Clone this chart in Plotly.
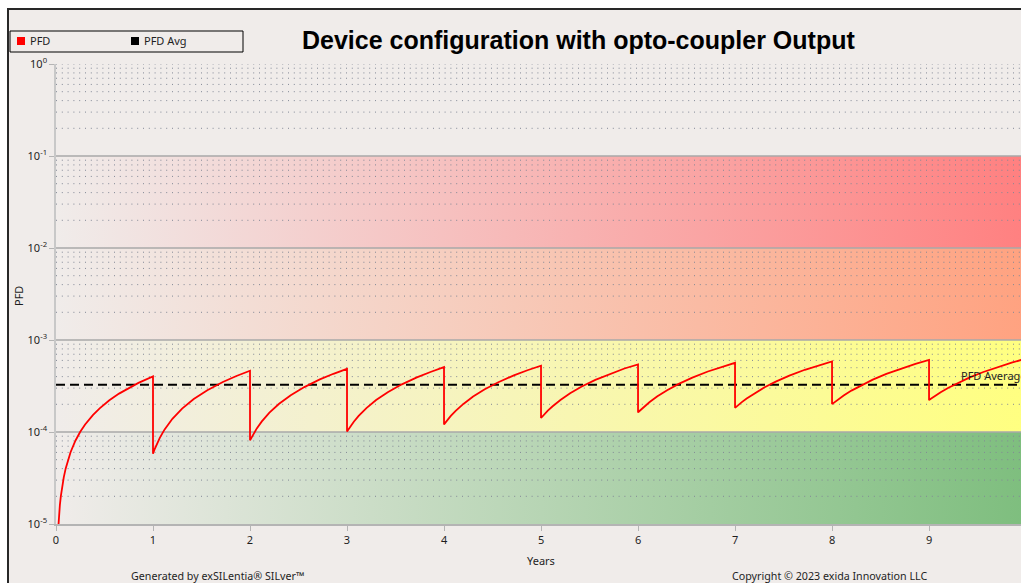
import plotly.graph_objects as go

# ---------------- data ----------------
title_text = "Device configuration with opto-coupler Output"
x_ticks = [0, 1, 2, 3, 4, 5, 6, 7, 8, 9, 10]
y_ticks = [1e-5, 1e-4, 1e-3, 1e-2, 1e-1, 1e0]
y_ticktext = ["10<sup>-5</sup>", "10<sup>-4</sup>", "10<sup>-3</sup>",
              "10<sup>-2</sup>", "10<sup>-1</sup>", "10<sup>0</sup>"]

# first proof-test interval (starts from zero)
first_offsets = [0.02, 0.025, 0.03, 0.04, 0.05, 0.065, 0.08, 0.1, 0.12, 0.15,
                 0.2, 0.25, 0.3, 0.38, 0.45, 0.55, 0.65, 0.75, 0.85, 1.0]
first_pfd = [8.04e-6, 1.005e-5, 1.206e-5, 1.608e-5, 2.01e-5, 2.613e-5, 3.216e-5,
             4.02e-5, 4.824e-5, 6.03e-5, 8.04e-5, 1.005e-4, 1.206e-4, 1.528e-4,
             1.809e-4, 2.211e-4, 2.613e-4, 3.015e-4, 3.417e-4, 4.02e-4]

# later intervals: sample offsets inside each year, and PFD values (x1e-4)
cycle_offsets = [0, 0.015, 0.03, 0.05, 0.07, 0.12, 0.2, 0.3, 0.42, 0.56, 0.72, 0.86, 1.0]
pfd_year2 = [0.581, 0.642, 0.703, 0.784, 0.865, 1.067, 1.391, 1.796, 2.282, 2.849, 3.497, 4.064, 4.63]
pfd_year3 = [0.811, 0.872, 0.933, 1.014, 1.095, 1.297, 1.621, 2.026, 2.512, 3.079, 3.727, 4.294, 4.86]
pfd_year4 = [1.01, 1.071, 1.132, 1.213, 1.294, 1.496, 1.82, 2.225, 2.711, 3.278, 3.926, 4.493, 5.07]
pfd_year5 = [1.21, 1.271, 1.332, 1.413, 1.494, 1.696, 2.02, 2.425, 2.911, 3.478, 4.126, 4.693, 5.25]
pfd_year6 = [1.42, 1.481, 1.542, 1.623, 1.704, 1.906, 2.23, 2.635, 3.121, 3.688, 4.336, 4.903, 5.43]
pfd_year7 = [1.63, 1.691, 1.752, 1.833, 1.914, 2.116, 2.44, 2.845, 3.331, 3.898, 4.546, 5.113, 5.65]
pfd_year8 = [1.83, 1.891, 1.952, 2.033, 2.114, 2.316, 2.64, 3.045, 3.531, 4.098, 4.746, 5.313, 5.86]
pfd_year9 = [2.01, 2.071, 2.132, 2.213, 2.294, 2.496, 2.82, 3.225, 3.711, 4.278, 4.926, 5.493, 6.08]
pfd_year10 = [2.22, 2.281, 2.342, 2.423, 2.504, 2.706, 3.03, 3.435, 3.921, 4.488, 5.136, 5.703, 6.27]
cycle_scale = 1e-4

pfd_avg = 3.26e-4

# SIL bands
band_low = [1e-5, 1e-4, 1e-3, 1e-2]
band_high = [1e-4, 1e-3, 1e-2, 1e-1]
band_color = ["rgb(126,190,126)", "rgb(255,255,128)", "rgb(255,162,128)", "rgb(255,128,128)"]

# ---------------- styling ----------------
BG = "rgb(240,236,234)"
FONT = "Noto Sans"
FIG_W, FIG_H = 1021, 583
L, T, PW, PH = 56, 64, 965, 460   # plot area, px


def px_x(px):
    return (px - L) / PW


def px_y(py):
    return (T + PH - py) / PH


# build the PFD curve
curve_x = list(first_offsets)
curve_y = list(first_pfd)
later = [pfd_year2, pfd_year3, pfd_year4, pfd_year5, pfd_year6,
         pfd_year7, pfd_year8, pfd_year9, pfd_year10]
for k, vals in enumerate(later, start=1):
    curve_x += [k + o for o in cycle_offsets]
    curve_y += [v * cycle_scale for v in vals]

fig = go.Figure()

# gradient bands
for lo, hi, c in zip(band_low, band_high, band_color):
    fig.add_trace(go.Scatter(
        x=[0, 10, 10, 0, 0], y=[lo, lo, hi, hi, lo],
        mode="lines", fill="toself", line=dict(width=0),
        fillgradient=dict(type="horizontal", colorscale=[[0, BG], [1, c]]),
        hoverinfo="skip", showlegend=False))

# dotted minor grid
gx, gy = [], []
for dec in [1e-5, 1e-4, 1e-3, 1e-2, 1e-1]:
    for d in range(2, 10):
        gx += [0, 10, None]
        gy += [d * dec, d * dec, None]
gx += [0, 10, None]
gy += [1.0, 1.0, None]
fig.add_trace(go.Scatter(x=gx, y=gy, mode="lines",
                         line=dict(color="rgb(130,136,150)", width=1, dash="1px,4.8px"),
                         hoverinfo="skip", showlegend=False))

# solid decade lines (band edges)
mx, my = [], []
for v in band_high:
    mx += [0, 10, None]
    my += [v, v, None]
fig.add_trace(go.Scatter(x=mx, y=my, mode="lines",
                         line=dict(color="rgb(168,168,168)", width=1.5),
                         hoverinfo="skip", showlegend=False))

# average line
fig.add_trace(go.Scatter(x=[0, 10], y=[pfd_avg, pfd_avg], mode="lines",
                         line=dict(color="black", width=2, dash="9px,5px"),
                         name="PFD Avg", hoverinfo="skip", showlegend=False))

# PFD curve
fig.add_trace(go.Scatter(x=curve_x, y=curve_y, mode="lines",
                         line=dict(color="rgb(255,0,0)", width=1.8),
                         name="PFD", showlegend=False))

shapes = [
    # frame / background
    dict(type="rect", xref="paper", yref="paper", layer="below",
         x0=px_x(8), x1=px_x(1040), y0=px_y(600), y1=px_y(9),
         fillcolor=BG, line=dict(color="rgb(40,40,40)", width=2)),
    # legend box
    dict(type="rect", xref="paper", yref="paper",
         x0=px_x(10), x1=px_x(243), y0=px_y(52), y1=px_y(31),
         fillcolor="rgba(0,0,0,0)", line=dict(color="black", width=1)),
    dict(type="rect", xref="paper", yref="paper",
         x0=px_x(17), x1=px_x(25), y0=px_y(45), y1=px_y(37),
         fillcolor="rgb(255,0,0)", line=dict(width=0)),
    dict(type="rect", xref="paper", yref="paper",
         x0=px_x(131), x1=px_x(139), y0=px_y(45), y1=px_y(37),
         fillcolor="black", line=dict(width=0)),
]

txt = dict(family=FONT, size=11, color="rgb(30,30,30)")
foot = dict(family=FONT, size=10.7, color="rgb(30,30,30)")
annotations = [
    dict(text=title_text, xref="paper", yref="paper", x=px_x(578.5), y=px_y(40),
         xanchor="center", yanchor="middle", showarrow=False,
         font=dict(family="Liberation Sans", size=25, color="black", weight="bold")),
    dict(text="PFD", xref="paper", yref="paper", x=px_x(28), y=px_y(41),
         xanchor="left", yanchor="middle", showarrow=False, font=txt),
    dict(text="PFD Avg", xref="paper", yref="paper", x=px_x(142), y=px_y(41),
         xanchor="left", yanchor="middle", showarrow=False, font=txt),
    dict(text="PFD", xref="paper", yref="paper", x=px_x(18), y=px_y(296),
         xanchor="center", yanchor="middle", textangle=-90, showarrow=False, font=txt),
    dict(text="Years", xref="paper", yref="paper", x=px_x(541), y=px_y(560),
         xanchor="center", yanchor="middle", showarrow=False, font=txt),
    dict(text="Generated by exSILentia® SILver™", xref="paper", yref="paper",
         x=px_x(217), y=px_y(576), xanchor="center", yanchor="middle",
         showarrow=False, font=foot),
    dict(text="Copyright © 2023 exida Innovation LLC", xref="paper", yref="paper",
         x=px_x(829), y=px_y(576), xanchor="center", yanchor="middle",
         showarrow=False, font=foot),
    dict(text="PFD Average", x=9.31, y=-3.487, xref="x", yref="y",
         xanchor="left", yanchor="bottom", yshift=0, showarrow=False, font=txt),
]

fig.update_layout(
    width=FIG_W, height=FIG_H,
    margin=dict(l=L, r=0, t=T, b=FIG_H - T - PH, pad=0),
    paper_bgcolor="white", plot_bgcolor="rgba(0,0,0,0)",
    font=txt, showlegend=False,
    shapes=shapes, annotations=annotations,
    xaxis=dict(range=[0, 9.948], tickvals=x_ticks, showgrid=False, zeroline=False,
               showline=True, linecolor="rgb(180,180,180)", linewidth=1.5,
               ticks="outside", ticklen=5, tickcolor="rgb(180,180,180)",
               tickfont=txt),
    yaxis=dict(type="log", range=[-5, 0], tickvals=y_ticks, ticktext=y_ticktext,
               showgrid=False, zeroline=False,
               showline=True, linecolor="rgb(200,200,200)", linewidth=1.5,
               ticks="outside", ticklen=5, tickcolor="rgb(180,180,180)",
               tickfont=txt),
)

fig.write_html(
    "out.html",
    config={"displayModeBar": False},
    post_script="document.body.style.margin='0';document.body.style.overflow='hidden';",
)
